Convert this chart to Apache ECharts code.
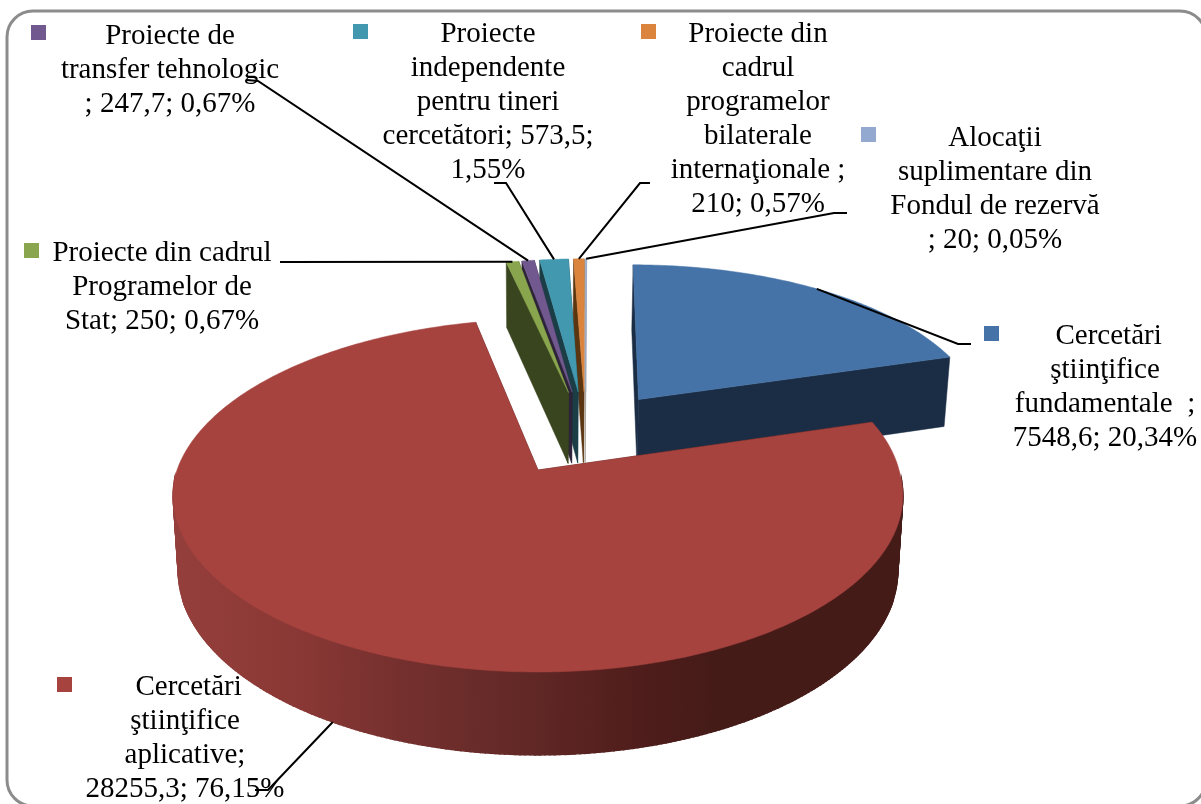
<!DOCTYPE html>
<html>
<head>
<meta charset="utf-8">
<style>
  html, body { margin: 0; padding: 0; background: #fff; }
  #chart { width: 1201px; height: 804px; }
</style>
<script src="https://cdn.jsdelivr.net/npm/echarts@6/dist/echarts.min.js"></script>
</head>
<body>
<div id="chart"></div>
<script>
// values in clockwise order, starting at 12 o'clock
const values = [7548.6, 28255.3, 250, 247.7, 573.5, 210, 20];
const labels = [
  ' Cercetări\nştiinţifice\nfundamentale  ;\n7548,6; 20,34%',
  ' Cercetări\nştiinţifice\naplicative;\n28255,3; 76,15%',
  'Proiecte din cadrul\nProgramelor de\nStat; 250; 0,67%',
  'Proiecte de\ntransfer tehnologic\n; 247,7; 0,67%',
  'Proiecte\nindependente\npentru tineri\ncercetători; 573,5;\n1,55%',
  'Proiecte din\ncadrul\nprogramelor\nbilaterale\ninternaţionale ;\n210; 0,57%',
  'Alocaţii\nsuplimentare din\nFondul de rezervă\n; 20; 0,05%'
];
const topColors = ['#4572a7', '#a6433f', '#89a54e', '#71588f', '#4198af', '#db843d', '#93a9cf'];
const sideColors = ['#1b2d45', '#451b18', '#39451f', '#2d2339', '#1a3d46', '#5a3510', '#a9a49c'];
// back to front
const drawOrder = [6, 5, 4, 3, 2, 0, 1];

// label box: centre x, centre y of first line, hook points towards the slice
const labelBox = [
  { x: 1105, y: 336, sq: [984, 326], hook: [[971, 344], [958, 344]], z: 0 },
  { x: 185, y: 687, sq: [57, 677], hook: [[255, 790], [268, 790]], z: 1 },
  { x: 162, y: 253, sq: [24, 243], hook: [[280, 262]], z: 0 },
  { x: 170, y: 36, sq: [31, 25], hook: [[247, 80], [258, 81]], z: 0 },
  { x: 488, y: 34, sq: [353, 24], hook: [[494, 183], [506, 183]], z: 0 },
  { x: 758, y: 34, sq: [641, 24], hook: [[650, 183], [640, 183]], z: 0 },
  { x: 995, y: 138, sq: [861, 127], hook: [[847, 213], [834, 213]], z: 0 }
];

const cx = 538, cy = 470, R = 361, Q = 172.8, persp = 0.1445, backShear = 8;
const explode = 0.26;
const lineH = 34;
const total = values.reduce((a, b) => a + b, 0);

let acc = 0;
const slices = values.map(v => {
  const start = acc / total * Math.PI * 2;
  acc += v;
  return { start: start, end: acc / total * Math.PI * 2, mid: (start + acc / total * Math.PI * 2) / 2 };
});

// pie centre sits so that the big slice's tip lands on cx, cy
const centre = [-explode * Math.sin(slices[1].mid), explode * Math.cos(slices[1].mid)];

function project (u, v, z) {
  const s = 1 / (1 - persp * v);
  let x = cx + R * u * s;
  let y = cy + Q * v * s;
  if (v < 0) x -= backShear * v * s;
  if (z) {
    y += 54 + 0.043 * y;
    x = cx + (x - cx) * 0.986;
  }
  return [x, y];
}

function tipOf (sl) {
  return [centre[0] + explode * Math.sin(sl.mid), centre[1] - explode * Math.cos(sl.mid)];
}

function rimPoint (sl, a, z) {
  const t = tipOf(sl);
  return project(t[0] + Math.sin(a), t[1] - Math.cos(a), z);
}

function rimAngles (sl) {
  const steps = Math.max(2, Math.ceil((sl.end - sl.start) / 0.012));
  const out = [];
  for (let i = 0; i <= steps; i++) {
    out.push(sl.start + (sl.end - sl.start) * i / steps);
  }
  return out;
}

const wallGradient = new echarts.graphic.LinearGradient(173, 0, 903, 0, [
  { offset: 0, color: '#953f3c' },
  { offset: 0.17, color: '#8a3835' },
  { offset: 0.31, color: '#75302e' },
  { offset: 0.47, color: '#632927' },
  { offset: 0.64, color: '#4f1d1b' },
  { offset: 0.74, color: '#451b18' },
  { offset: 1, color: '#451b18' }
], true);

function renderSlice (params, api) {
  const i = api.value(0);
  const sl = slices[i];
  const t = tipOf(sl);
  const tipTop = project(t[0], t[1], 0);
  const tipBot = project(t[0], t[1], 1);
  const angles = rimAngles(sl);
  const topArc = angles.map(a => rimPoint(sl, a, 0));
  const botArc = angles.map(a => rimPoint(sl, a, 1));
  const side = sideColors[i];
  const wall = i === 1 ? wallGradient : side;
  const poly = (points, fill, lw) => ({
    type: 'polygon',
    shape: { points: points },
    style: { fill: fill, stroke: fill, lineWidth: lw || 0.5 }
  });
  const children = [
    poly([tipTop, topArc[topArc.length - 1], botArc[botArc.length - 1], tipBot], side),
    poly([tipTop, topArc[0], botArc[0], tipBot], side)
  ];
  // outer wall as a strip of quads, only the part that faces the viewer;
  // the wider stroke hides the seams between them
  for (let k = 0; k < topArc.length - 1; k++) {
    if (-Math.cos(angles[k]) > 0.05) {
      children.push(poly([topArc[k], topArc[k + 1], botArc[k + 1], botArc[k]], wall, 1.5));
    }
  }
  children.push(poly([tipTop].concat(topArc), topColors[i]));
  return { type: 'group', children: children };
}

const graphics = [{
  type: 'rect',
  shape: { x: 7, y: 11, width: 1199, height: 795, r: 26 },
  style: { fill: 'none', stroke: '#8c8c8c', lineWidth: 3 },
  z: 1
}];

labelBox.forEach((b, i) => {
  const lines = labels[i].split('\n').length;
  graphics.push({
    type: 'text',
    z: 20,
    style: {
      text: labels[i],
      x: b.x,
      y: b.y + (lines - 1) * lineH / 2,
      align: 'center',
      verticalAlign: 'middle',
      lineHeight: lineH,
      fill: '#000',
      font: '29px "Liberation Serif"'
    }
  });
  graphics.push({
    type: 'rect',
    z: 20,
    shape: { x: b.sq[0], y: b.sq[1], width: 15, height: 15 },
    style: { fill: topColors[i] }
  });
  graphics.push({
    type: 'polyline',
    z: 21,
    shape: { points: b.hook.concat([rimPoint(slices[i], slices[i].mid, b.z)]) },
    style: { fill: 'none', stroke: '#000', lineWidth: 2 }
  });
});

const chart = echarts.init(document.getElementById('chart'));
chart.setOption({
  animation: false,
  backgroundColor: '#fff',
  graphic: { elements: graphics },
  series: [{
    type: 'custom',
    coordinateSystem: 'none',
    silent: true,
    z: 5,
    renderItem: renderSlice,
    data: drawOrder.map(i => [i])
  }]
});
</script>
</body>
</html>
